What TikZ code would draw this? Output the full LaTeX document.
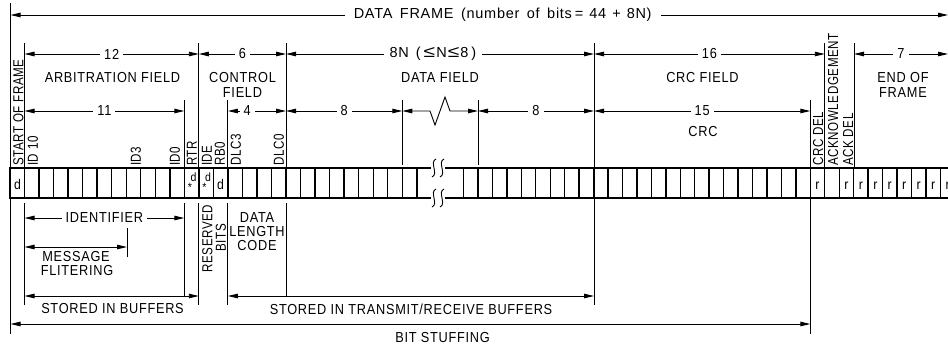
\documentclass[tikz,border=0pt]{standalone}
\usepackage{graphicx}
\usepackage{fontspec}
\newfontfamily\cadh{Liberation Sans}[FakeStretch=0.88,LetterSpace=5]
\newfontfamily\cadv{Liberation Sans}[FakeStretch=0.8,LetterSpace=4]
\newfontfamily\cadw{Liberation Sans}[LetterSpace=5]
\newcommand\wsp{\hspace{7.5pt}}
\newcommand\bigle{\scalebox{1.45}[1.15]{≤}}
\usetikzlibrary{arrows.meta}
\begin{document}
\begin{tikzpicture}[x=1pt,y=-1pt,
  dim/.style={line width=0.9pt,{Triangle[length=10pt,width=4.5pt]}-{Triangle[length=10pt,width=4.5pt]}},
  ext/.style={line width=0.9pt},
  rowl/.style={line width=2.2pt},
  cell/.style={line width=1.4pt},
  lab/.style={font=\cadh\fontsize{14.5}{15}\selectfont, inner sep=0pt},
  widel/.style={font=\cadw\fontsize{14.5}{15}\selectfont},
  gapl/.style={lab, fill=white, inner xsep=4pt, inner ysep=1pt},
  vlab/.style={font=\cadv\fontsize{14.5}{15}\selectfont, inner sep=0pt, rotate=90, anchor=west},
  bitl/.style={font=\cadh\fontsize{14}{15}\selectfont, inner sep=0pt, anchor=base},
  smallbit/.style={font=\cadh\fontsize{12}{13}\selectfont, inner sep=0pt},
  brk/.style={line width=0.9pt}
]
\useasboundingbox (0,0) rectangle (948,349);
\clip (0,0) rectangle (948,349);

% ---------- bit row ----------
\draw[rowl] (10,168) -- (431,168) (445,168) -- (960,168);
\draw[rowl] (10,198) -- (431,198) (445,198) -- (960,198);
\draw[rowl] (10,167) -- (10,199);
\foreach \k in {1,...,28} \draw[cell] ({10+14.53*\k},168) -- ++(0,30);
\foreach \k in {0,...,34} \draw[cell] ({463.5+14.45*\k},168) -- ++(0,30);
% break marks
\foreach \xx in {434,442} {
  \foreach \yy in {168,198} {
    \draw[brk] (\xx+2,\yy-9) .. controls (\xx-5,\yy-6) and (\xx+5,\yy+6) .. (\xx-2,\yy+9);
  }
}
% bit contents
\node[bitl] (b0) at (17.5,189) {d};
\node[smallbit] (brtr) at (193.5,177) {d};
\node[smallbit] (brtrs) at (190,187) {*};
\node[smallbit] (bide) at (208,177) {d};
\node[smallbit] (bides) at (204.5,187) {*};
\node[bitl] (brb0) at (220.6,189) {d};
\node[bitl] (bcrcdel) at ({463.5+14.45*24+7.2},189) {r};
\foreach \k in {26,...,33} \node[bitl] (br\k) at ({463.5+14.45*\k+7.2},189) {r};

% ---------- extension lines ----------
\draw[ext] (10.5,3) -- (10.5,334);
\draw[ext] (24.5,43) -- (24.5,168) (24.5,203) -- (24.5,305);
\draw[ext] (184.3,100) -- (184.3,168) (184.3,203) -- (184.3,296);
\draw[ext] (198.8,43) -- (198.8,168) (198.8,203) -- (198.8,305);
\draw[ext] (227.9,100) -- (227.9,168) (227.9,203) -- (227.9,305);
\draw[ext] (286,43) -- (286,168) (286,203) -- (286,296);
\draw[ext] (127,228) -- (127,257);
\draw[ext] (402.3,100) -- (402.3,165);
\draw[ext] (478,100) -- (478,165);
\draw[ext] (594,43) -- (594,305);
\draw[ext] (810.3,100) -- (810.3,334);
\draw[ext] (824.8,43) -- (824.8,168);
\draw[ext] (854,43) -- (854,168);

% ---------- top dimension ----------
\draw[dim] (10.5,15) -- node[gapl,widel,pos=0.525,inner xsep=9pt] (tframe) {DATA\wsp FRAME\wsp (number\wsp of\wsp bits\hspace{3pt}=\hspace{6pt}44\hspace{6pt}+\hspace{6pt}8N)} (948,15);

\draw[dim] (24.5,54) -- node[gapl] (t12) {12} (198.8,54);
\draw[dim] (198.8,54) -- node[gapl] (t6) {6} (286,54);
\draw[dim] (286,54) -- node[gapl,widel,pos=0.477,inner xsep=6pt] (t8n) {8N\hspace{7pt}(\hspace{3pt}\bigle\hspace{1pt}N\hspace{1pt}\bigle\hspace{1pt}8\hspace{3pt})} (594,54);
\draw[dim] (594,54) -- node[gapl] (t16) {16} (824.8,54);
\draw[dim] (854,54) -- node[gapl] (t7) {7} (948,54);

\node[lab] (arb) at (112.5,77.5) {ARBITRATION FIELD};
\node[lab] (ctl1) at (242.5,77.5) {CONTROL};
\node[lab] (ctl2) at (242.5,92.5) {FIELD};
\node[lab] (dfield) at (440,77.5) {DATA FIELD};
\node[lab] (crcf) at (702.5,77.5) {CRC FIELD};
\node[lab] (eof1) at (903,77.5) {END OF};
\node[lab] (eof2) at (903,92.5) {FRAME};

\draw[dim] (24.5,111) -- node[gapl] (t11) {11} (184.3,111);
\draw[dim] (227.9,111) -- node[gapl,pos=0.33] (t4) {4} (286,111);
\draw[dim] (286,111) -- node[gapl] (t8a) {8} (402.3,111);
\draw[dim] (402.3,111) -- (430,111) -- (435,125) -- (445,97) -- (450,111) -- (478,111);
\draw[dim] (478,111) -- node[gapl] (t8b) {8} (594,111);
\draw[dim] (594,111) -- node[gapl] (t15) {15} (810.3,111);
\node[lab] (crc) at (703,132) {CRC};

% ---------- vertical labels ----------
\node[vlab] (vsof) at (18.5,166) {START OF FRAME};
\node[vlab] (vid10) at (33,166) {ID 10};
\node[vlab] (vid3) at (136,166) {ID3};
\node[vlab] (vid0) at (175,166) {ID0};
\node[vlab] (vrtr) at (192,166) {RTR};
\node[vlab] (vide) at (207,166) {IDE};
\node[vlab] (vrb0) at (220,166) {RB0};
\node[vlab] (vdlc3) at (236,166) {DLC3};
\node[vlab] (vdlc0) at (279,166) {DLC0};
\node[vlab] (vcrcdel) at (818,166) {CRC DEL};
\node[vlab] (vack) at (833,166) {ACKNOWLEDGEMENT};
\node[vlab] (vackdel) at (848,166) {ACK DEL};

% ---------- lower annotations ----------
\draw[dim] (24.5,218) -- node[gapl] (tid) {IDENTIFIER} (184.3,218);
\draw[dim] (24.5,247) -- (127,247);
\node[lab] (msg1) at (76,257) {MESSAGE};
\node[lab] (msg2) at (77,270.5) {FLITERING};
\node[vlab,anchor=center] (res1) at (207.5,238.5) {RESERVED};
\node[vlab,anchor=center] (res2) at (221,238) {BITS};
\node[lab] (dlc1) at (257,217.5) {DATA};
\node[lab] (dlc2) at (257,231.5) {LENGTH};
\node[lab] (dlc3) at (257,245.5) {CODE};

\draw[dim] (24.5,296) -- (198.8,296);
\node[lab] (sib) at (112.5,309) {STORED IN BUFFERS};
\draw[dim] (227.9,296) -- (594,296);
\node[lab] (strb) at (411,309) {STORED IN TRANSMIT/RECEIVE BUFFERS};
\draw[dim] (10.5,324) -- (810.3,324);
\node[lab] (bs) at (442.5,337.5) {BIT STUFFING};
\end{tikzpicture}
\end{document}
